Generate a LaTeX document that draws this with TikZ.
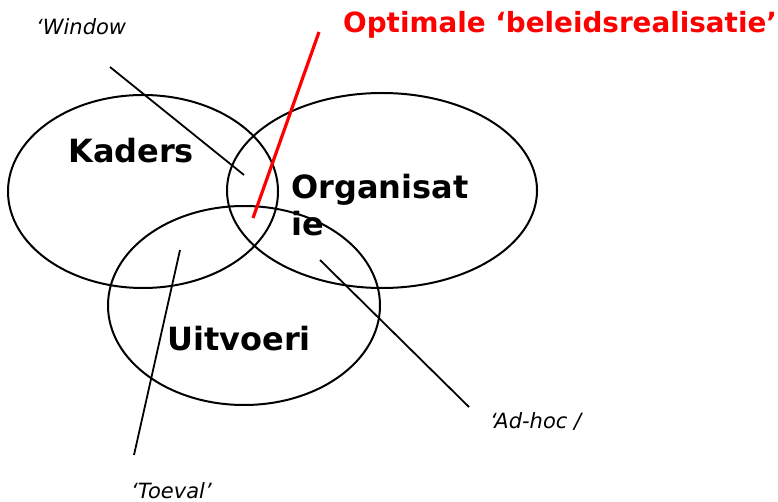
\documentclass[tikz,border=0pt]{standalone}
\usepackage{fontspec}
\setmainfont{DejaVu Sans}
\usetikzlibrary{shapes.geometric}
\tikzset{
  ring/.style={ellipse, draw=black, line width=2pt, inner sep=0pt},
  setname/.style={anchor=base west, inner sep=0pt, font=\bfseries\fontsize{32}{37}\selectfont},
  remark/.style={anchor=base west, inner sep=0pt, font=\itshape\fontsize{21}{25}\selectfont},
  pointer/.style={line width=1.8pt, black}
}

\begin{document}
\begin{tikzpicture}[x=1pt, y=-1pt]
		%%%%% START %%%%%
		\useasboundingbox (0, 0) rectangle (778, 502);
		
		\node[ring, minimum width=270pt, minimum height=193pt] (kaders) at (143, 191.5) {};
		\node[ring, minimum width=310pt, minimum height=195pt] (organisatie) at (382, 190.5) {};
		\node[ring, minimum width=272pt, minimum height=199pt] (uitvoering) at (244, 305.5) {};
		
		\node[setname] (kadtxt) at (68, 163) {Kaders};
		\node[setname, align=left] (orgtxt) at (291, 236) {Organisat\\ie};
		\node[setname] (uittxt) at (167, 350) {Uitvoeri};
		
		\node[anchor=base west, inner sep=0pt, text=red, font=\bfseries\fontsize{27.8}{32}\selectfont] (optimaal) at (343, 33) {Optimale ‘beleidsrealisatie’};
		\node[remark] (window) at (36, 35) {‘Window};
		\node[remark] (adhoc) at (490, 428) {‘Ad-hoc /};
		\node[remark] (toeval) at (131, 498) {‘Toeval’};
		
		\coordinate (w1) at (110, 67);
		\coordinate (w2) at (244, 175);
		\coordinate (r1) at (319, 32);
		\coordinate (r2) at (253, 218);
		\coordinate (t1) at (180, 250);
		\coordinate (t2) at (134, 455);
		\coordinate (a1) at (320, 260);
		\coordinate (a2) at (469, 407);
		
		\draw[pointer] (w1) -- (w2);
		\draw[line width=3.2pt, red] (r1) -- (r2);
		\draw[pointer] (t1) -- (t2);
		\draw[pointer] (a1) -- (a2);
		
		%%%%% END %%%%%
	\end{tikzpicture}
\end{document}
